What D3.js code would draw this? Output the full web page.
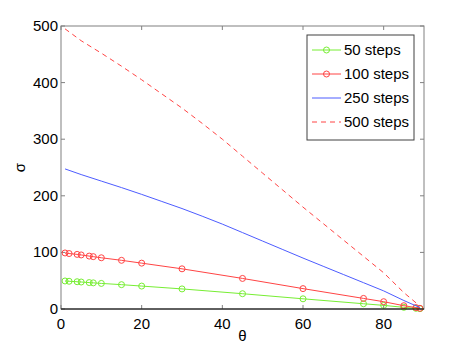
<!DOCTYPE html>
<html lang="en">
<head>
<meta charset="UTF-8">
<title>sigma vs theta</title>
<script src="https://d3js.org/d3.v7.min.js"></script>
<style>
    body { margin: 0; background: #fff; }
    text { font-family: "Liberation Sans", Arial, sans-serif; font-size: 15px; fill: #000; }
</style>
</head>
<body>
<svg width="469" height="352"></svg>
<script>
    // marker points for the 50 and 100 step runs
    const thetaMarked = [1, 2, 4, 5, 7, 8, 10, 15, 20, 30, 45, 60, 75, 80, 85, 88, 89];
    const steps50 = [49.5, 49, 48.2, 47.7, 46.7, 46.2, 45.2, 43, 40.5, 35.5, 27, 18, 9.3, 6.4, 2.9, 1.2, 0.6];
    const steps100 = [99, 98, 96.5, 95.5, 93.5, 92.5, 90.5, 86, 81, 71, 54, 36, 18.7, 12.9, 5.8, 2.5, 1.2];

    // smooth lines for the 250 and 500 step runs
    const thetaLine = [1, 5, 10, 15, 20, 25, 30, 35, 40, 45, 50, 55, 60, 65, 70, 75, 80, 85, 89];
    const steps250 = [247.5, 237.5, 226, 214.5, 202.5, 190, 177.5, 164, 150, 135, 120, 105, 90, 75.5, 61, 46.5, 32, 15, 2.5];
    const steps500 = [495, 474, 452, 429, 405, 380, 355, 328, 300, 270, 240, 210, 180, 151, 122, 93, 64, 29, 5];

    const xTicks = [0, 20, 40, 60, 80];
    const yTicks = [0, 100, 200, 300, 400, 500];

    const mLeft = 61, mRight = 424, mTop = 26, mBottom = 309;

    const x = d3.scaleLinear().domain([0, 90]).range([mLeft, mRight]);
    const y = d3.scaleLinear().domain([0, 500]).range([mBottom, mTop]);

    const svg = d3.select("svg");

    // frame
    svg.append("rect")
        .attr("x", mLeft).attr("y", mTop)
        .attr("width", mRight - mLeft).attr("height", mBottom - mTop)
        .attr("fill", "none").attr("stroke", "#808080");

    // ticks (inward, both sides)
    const tickLen = 4;
    const g = svg.append("g").attr("stroke", "#808080");
    xTicks.forEach(t => {
        g.append("line").attr("x1", x(t)).attr("x2", x(t)).attr("y1", mBottom).attr("y2", mBottom - tickLen);
        g.append("line").attr("x1", x(t)).attr("x2", x(t)).attr("y1", mTop).attr("y2", mTop + tickLen);
    });
    yTicks.forEach(t => {
        g.append("line").attr("x1", mLeft).attr("x2", mLeft + tickLen).attr("y1", y(t)).attr("y2", y(t));
        g.append("line").attr("x1", mRight).attr("x2", mRight - tickLen).attr("y1", y(t)).attr("y2", y(t));
    });

    svg.selectAll(".xt").data(xTicks).enter().append("text")
        .attr("x", d => x(d)).attr("y", mBottom + 20)
        .attr("text-anchor", "middle").text(d => d);
    svg.selectAll(".yt").data(yTicks).enter().append("text")
        .attr("x", mLeft - 3).attr("y", d => y(d) + 5)
        .attr("text-anchor", "end").text(d => d);

    svg.append("text").attr("x", x(45)).attr("y", 341)
        .attr("text-anchor", "middle").text("θ");
    svg.append("text")
        .attr("transform", "translate(25," + ((mTop + mBottom) / 2) + ") rotate(-90)")
        .attr("text-anchor", "middle").text("σ");

    const line = d3.line().x(d => x(d[0])).y(d => y(d[1]));

    const series = [
        { name: "50 steps", xs: thetaMarked, ys: steps50, color: "#77ee33", dash: null, marker: true },
        { name: "100 steps", xs: thetaMarked, ys: steps100, color: "#ff4444", dash: null, marker: true },
        { name: "250 steps", xs: thetaLine, ys: steps250, color: "#4d5cff", dash: null, marker: false },
        { name: "500 steps", xs: thetaLine, ys: steps500, color: "#ff4444", dash: "5,4", marker: false }
    ];

    series.forEach(s => {
        const pts = s.xs.map((t, i) => [t, s.ys[i]]);
        svg.append("path").datum(pts)
            .attr("d", line).attr("fill", "none")
            .attr("stroke", s.color).attr("stroke-width", 1)
            .attr("stroke-dasharray", s.dash);
        if (s.marker) {
            svg.append("g").selectAll("circle").data(pts).enter().append("circle")
                .attr("cx", d => x(d[0])).attr("cy", d => y(d[1])).attr("r", 3)
                .attr("fill", "none").attr("stroke", s.color);
        }
    });

    // bottom axis line drawn darker
    svg.append("line").attr("x1", mLeft).attr("x2", mRight).attr("y1", mBottom).attr("y2", mBottom)
        .attr("stroke", "#000");

    // legend
    const lg = svg.append("g");
    lg.append("rect").attr("x", 307).attr("y", 35).attr("width", 107).attr("height", 105)
        .attr("fill", "#fff").attr("stroke", "#404040");
    series.forEach((s, i) => {
        const ly = 50 + i * 24;
        lg.append("line").attr("x1", 312).attr("x2", 341).attr("y1", ly).attr("y2", ly)
            .attr("stroke", s.color).attr("stroke-dasharray", s.dash);
        if (s.marker) {
            lg.append("circle").attr("cx", 326.5).attr("cy", ly).attr("r", 3)
                .attr("fill", "none").attr("stroke", s.color);
        }
        lg.append("text").attr("x", 344).attr("y", ly + 5).text(s.name);
    });
</script>
</body>
</html>
